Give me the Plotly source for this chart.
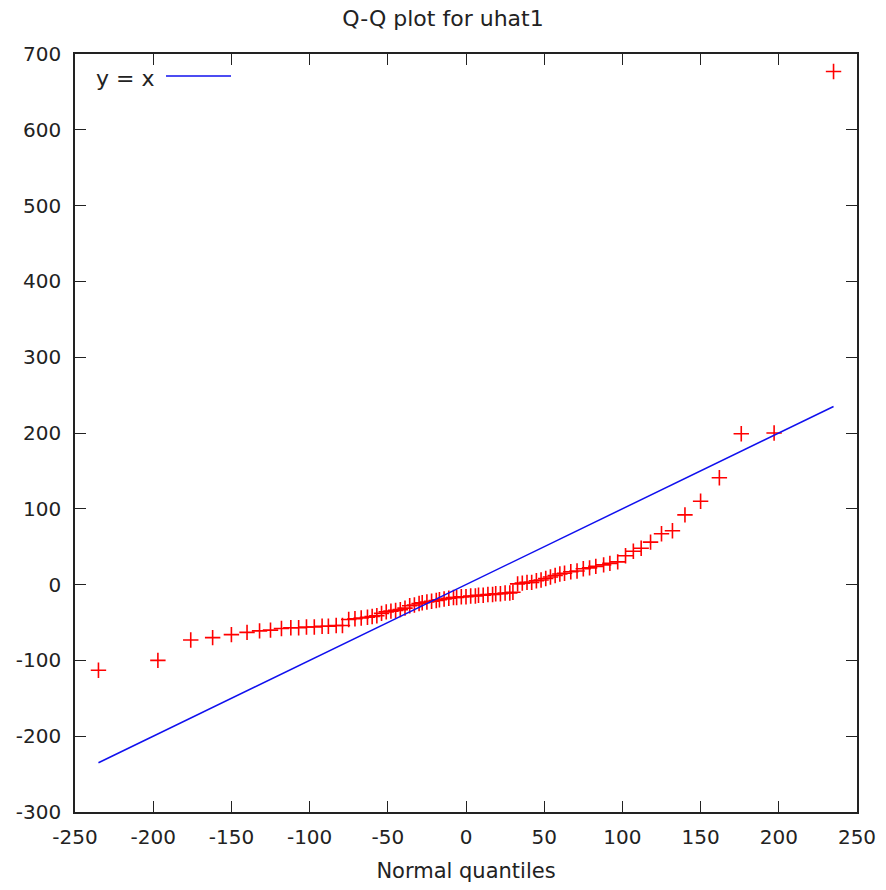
import plotly.graph_objects as go

# Normal quantiles (x) and sorted residuals uhat1 (y)
x_quant = [-235, -197, -176, -162, -150, -140, -132, -125, -118, -112, -107, -102, -97, -92, -88,
           -83, -79, -75, -71, -67, -63, -60, -57, -54, -51, -48, -45, -42, -39, -36, -33, -30,
           -28, -25, -22, -19, -17, -14, -11, -8, -6, -3, 0,
           3, 6, 8, 11, 14, 17, 19, 22, 25, 28, 30, 33, 36, 39, 42, 45, 48, 51, 54, 57, 60, 63,
           67, 71, 75, 79, 83, 88, 92, 97, 102, 107, 112, 118, 125, 132, 140, 150, 162, 176, 197, 235]
y_resid = [-113, -100, -73, -70, -66, -63, -61, -60, -58, -57, -57, -56, -56, -55, -55,
           -54, -54, -46, -45, -44, -43, -42, -41, -38, -36, -35, -34, -33, -31, -28, -27, -25,
           -24, -23, -22, -21, -20, -19, -18, -17, -17, -16, -16,
           -15, -15, -14, -14, -13, -13, -12, -12, -11, -11, -10, 1, 2, 3, 3, 5, 6, 8, 10, 12, 14, 15,
           17, 18, 21, 22, 24, 26, 28, 30, 38, 44, 48, 56, 67, 71, 92, 110, 141, 199, 200, 677]

x_ticks = [-250, -200, -150, -100, -50, 0, 50, 100, 150, 200, 250]
y_ticks = [-300, -200, -100, 0, 100, 200, 300, 400, 500, 600, 700]
x_ticklabels = [str(v) for v in x_ticks]
y_ticklabels = [str(v) for v in y_ticks]

title_text = "Q-Q plot for uhat1"
x_title = "Normal quantiles"
legend_label = "y = x"

FONT = "DejaVu Sans"
TXT = "#222222"

W, H = 886, 890

line_x = [min(x_quant), max(x_quant)]
line_y = list(line_x)

fig = go.Figure()
fig.add_trace(go.Scatter(
    x=x_quant, y=y_resid, mode="markers",
    marker=dict(symbol="cross-thin-open", size=11, color="#ff0000",
                line=dict(color="#ff0000", width=1.6)),
    showlegend=False, name="uhat1"))
fig.add_trace(go.Scatter(
    x=line_x, y=line_y, mode="lines",
    line=dict(color="#1010ee", width=1.5),
    showlegend=False, name=legend_label))

axis_common = dict(
    showgrid=False, zeroline=False, showline=True, linecolor="#222222", linewidth=1.5,
    mirror="ticks", ticks="inside", ticklen=11, tickwidth=1.3, tickcolor="#222222",
    tickfont=dict(family=FONT, size=20, color=TXT), automargin=False,
)

fig.update_layout(
    width=W, height=H,
    paper_bgcolor="white", plot_bgcolor="white",
    margin=dict(l=75, r=29, t=54, b=78, autoexpand=False),
    font=dict(family=FONT, size=20, color=TXT),
    title=dict(text=title_text, x=0.5, xanchor="center", y=1 - 18 / H, yanchor="middle",
               font=dict(family=FONT, size=22, color=TXT)),
    xaxis=dict(range=[x_ticks[0], x_ticks[-1]], tickvals=x_ticks, ticktext=x_ticklabels,
               ticklabelstandoff=6,
               title=dict(text=x_title, standoff=16, font=dict(family=FONT, size=21, color=TXT)),
               **axis_common),
    yaxis=dict(range=[y_ticks[0], y_ticks[-1]], tickvals=y_ticks, ticktext=y_ticklabels,
               ticklabelstandoff=8, **axis_common),
    showlegend=False,
)

# gnuplot-style key: label followed by a line sample
fig.add_annotation(x=0.024, y=0.968, xref="paper", yref="paper", text=legend_label,
                   showarrow=False, xanchor="left", yanchor="middle",
                   font=dict(family=FONT, size=22, color=TXT))
fig.add_shape(type="line", xref="paper", yref="paper", x0=0.1164, x1=0.1995, y0=0.971, y1=0.971,
              line=dict(color="#1010ee", width=1.5))

fig.write_html("out.html", config={"displayModeBar": False},
               post_script="document.body.style.margin='0';document.body.style.overflow='hidden';")
